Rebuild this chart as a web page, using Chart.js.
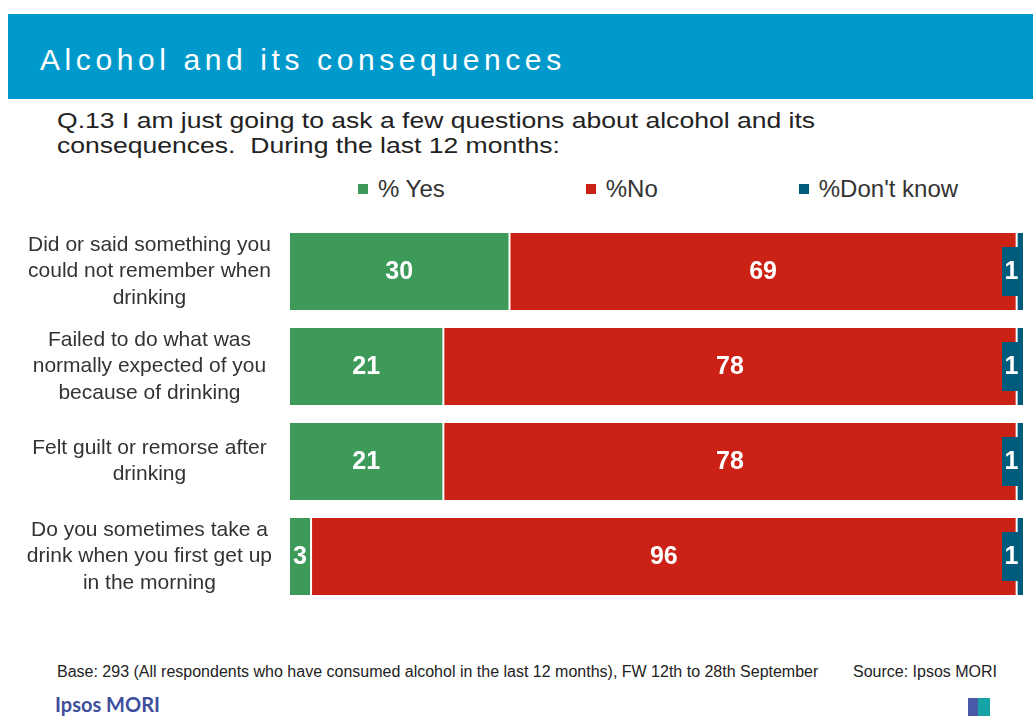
<!DOCTYPE html>
<html>
<head>
<meta charset="utf-8">
<title>Alcohol and its consequences</title>
<script src="https://cdn.jsdelivr.net/npm/chart.js@4.4.1/dist/chart.umd.min.js"></script>
<style>
  body { margin: 0; width: 1033px; height: 716px; background: #fff; position: relative; overflow: hidden;
         font-family: "Liberation Sans", Arial, sans-serif; color: #333; }
  .header { position: absolute; left: 8px; top: 14px; width: 1025px; height: 85px; background: #0099cc; }
  .header h1 { position: absolute; left: 32px; top: 31px; margin: 0; font-weight: normal; font-size: 30px;
               line-height: 29px; letter-spacing: 4.6px; color: #fff; white-space: nowrap; }
  .question { position: absolute; left: 57px; top: 108px; font-size: 22px; line-height: 25px; color: #222;
              white-space: nowrap; transform: scaleX(1.206); transform-origin: left top; }
  .legend { position: absolute; left: 358px; top: 175px; display: flex; gap: 141px; font-size: 24px;
            line-height: 28px; color: #333; }
  .legend span.item { display: flex; align-items: center; white-space: nowrap; }
  .legend i { display: inline-block; width: 10px; height: 10px; margin-right: 10px; }
  #chart { position: absolute; left: 0; top: 214px; }
  .base { position: absolute; left: 57px; top: 663px; font-size: 16px; color: #222; white-space: nowrap; }
  .source { position: absolute; left: 853px; top: 663px; font-size: 16px; color: #222; white-space: nowrap; }
  .logo { position: absolute; left: 55px; top: 692px; font-family: Lato, "Open Sans", sans-serif; font-weight: bold;
          font-size: 20px; color: #3e4f9c; }
  .mark-a { position: absolute; left: 968px; top: 698px; width: 10px; height: 18px; background: #4b5aa8; }
  .mark-b { position: absolute; left: 978px; top: 698px; width: 12px; height: 18px; background: #16a3a6; }
</style>
</head>
<body>
<div class="header"><h1>Alcohol and its consequences</h1></div>
<div class="question">Q.13 I am just going to ask a few questions about alcohol and its<br>consequences.&nbsp; During the last 12 months:</div>
<div class="legend" id="legend"></div>
<canvas id="chart" width="1033" height="400"></canvas>
<div class="base">Base: 293 (All respondents who have consumed alcohol in the last 12 months), FW 12th to 28th September</div>
<div class="source">Source: Ipsos MORI</div>
<div class="logo">Ipsos MORI</div>
<div class="mark-a"></div><div class="mark-b"></div>

<script>
const categories = [
  ["Did or said something you", "could not remember when", "drinking"],
  ["Failed to do what was", "normally expected of you", "because of drinking"],
  ["Felt guilt or remorse after", "drinking"],
  ["Do you sometimes take a", "drink when you first get up", "in the morning"]
];
const yesValues = [30, 21, 21, 3];
const noValues = [69, 78, 78, 96];
const dontKnowValues = [1, 1, 1, 1];

const seriesNames = ["% Yes", "%No", "%Don't know"];
const seriesColors = ["#3d9a58", "#cc2215", "#015b7c"];

// white numbers in the middle of each segment; the 1% segment gets a tab
const valueLabels = {
  id: "valueLabels",
  afterDatasetsDraw(chart) {
    const ctx = chart.ctx;
    ctx.save();
    ctx.font = 'bold 25px "Liberation Sans", Arial, sans-serif';
    ctx.textAlign = "center";
    ctx.textBaseline = "middle";
    chart.data.datasets.forEach((ds, i) => {
      chart.getDatasetMeta(i).data.forEach((bar, j) => {
        let cx = (bar.base + bar.x) / 2;
        if (i === 2) {
          const w = 17, h = 49;
          ctx.fillStyle = ds.backgroundColor;
          ctx.fillRect(bar.x - 22, bar.y - h / 2, w, h);
          cx = bar.x - 22 + w / 2 + 1;
        }
        ctx.fillStyle = "#fff";
        ctx.fillText(String(ds.data[j]), cx, bar.y + 1);
      });
    });
    ctx.restore();
  }
};

const datasets = [yesValues, noValues, dontKnowValues].map((values, i) => ({
  label: seriesNames[i],
  data: values,
  backgroundColor: seriesColors[i],
  borderColor: "#ffffff",
  borderWidth: { left: 1, right: 1, top: 0, bottom: 0 },
  borderSkipped: false,
  categoryPercentage: 1,
  barPercentage: 0.81
}));

// legend drawn as html so the items can be spread out like the slide
const legendEl = document.getElementById("legend");
seriesNames.forEach((name, i) => {
  const item = document.createElement("span");
  item.className = "item";
  item.innerHTML = '<i style="background:' + seriesColors[i] + '"></i>' + name;
  legendEl.appendChild(item);
});

new Chart(document.getElementById("chart"), {
  type: "bar",
  data: { labels: categories, datasets: datasets },
  plugins: [valueLabels],
  options: {
    indexAxis: "y",
    responsive: false,
    animation: false,
    devicePixelRatio: 1,
    layout: { padding: { top: 10, bottom: 10, left: 0, right: 9 } },
    scales: {
      x: { stacked: true, min: 0, max: 100, display: false },
      y: {
        stacked: true,
        grid: { display: false, drawTicks: false, tickLength: 0 },
        border: { display: false },
        afterFit(scale) {
          scale.width = 289;
          // labels sit inside their bands, no overhang padding needed
          scale.paddingTop = 0;
          scale.paddingBottom = 0;
        },
        ticks: {
          crossAlign: "center",
          padding: 17,
          color: "#333",
          font: { family: '"Liberation Sans", Arial, sans-serif', size: 21, lineHeight: 1.25 }
        }
      }
    },
    plugins: {
      legend: { display: false },
      tooltip: { enabled: false }
    }
  }
});
</script>
</body>
</html>
